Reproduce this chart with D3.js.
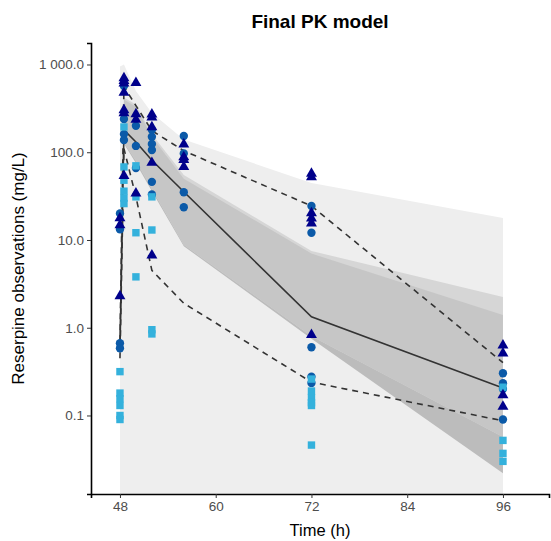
<!DOCTYPE html>
<html>
<head>
<meta charset="utf-8">
<script src="https://cdn.jsdelivr.net/npm/d3@7"></script>
<style>
  body { margin: 0; background: #fff; }
  text { font-family: "Liberation Sans", Arial, sans-serif; }
</style>
</head>
<body>
<div id="chart"></div>
<script>
// VPC bins (h)
var times = [48, 48.5, 50, 52, 56, 72, 96];

// observed percentiles
var obsMedian = [0.55, 180, 131, 81, 35.5, 1.33, 0.206];
var obsP95 = [0.7, 560, 340, 176, 104, 24.4, 0.40];
var obsP5 = [0.45, 110, 31, 4.5, 1.9, 0.24, 0.087];

// simulated prediction interval (light band)
var piUpper = [950, 1000, 500, 280, 140, 44.6, 17.8];
var piLower = [0.005, 0.005, 0.005, 0.005, 0.005, 0.005, 0.005];

// simulated CI bands around median
var ciTimes = [48.5, 50, 52, 56, 72, 96];
var ciUpperA = [420, 350, 160, 55, 7.5, 2.24];
var ciLowerA = [130, 80, 38, 8.8, 0.8, 0.057];
var ciUpperB = [400, 330, 150, 50, 7.0, 1.4];
var ciLowerB = [125, 75, 36, 8.5, 0.75, 0.022];

// observations
var triTime = [48, 48, 48,
  48.5, 48.5, 48.5, 48.5, 48.5, 48.5, 48.5,
  50, 50, 50, 50,
  52, 52, 52, 52, 52,
  56, 56, 56, 56,
  72, 72, 72, 72, 72, 72,
  96, 96, 96, 96];
var triConc = [17.8, 14.8, 2.3,
  702, 650, 610, 477, 302, 280, 54,
  620, 273, 235, 34,
  270, 250, 194, 76, 6.7,
  123, 88, 82, 68,
  57, 52, 20.2, 17.7, 15.5, 0.83,
  0.63, 0.51, 0.171, 0.126];

var cirTime = [48, 48, 48, 48,
  48.5, 48.5, 48.5, 48.5,
  50, 50, 50,
  52, 52, 52, 52, 52, 52,
  56, 56, 56, 56,
  72, 72, 72, 72, 72,
  96, 96, 96, 96];
var cirConc = [20.1, 13.2, 0.665, 0.583,
  568, 239, 161, 138,
  200, 118, 66,
  180, 150, 124, 106, 46, 33,
  153, 97, 35, 23.6,
  24.4, 12.1, 0.6, 0.277, 0.235,
  0.303, 0.233, 0.2, 0.09];

var sqTime = [48, 48, 48, 48, 48, 48,
  48.5, 48.5, 48.5, 48.5, 48.5, 48.5,
  50, 50, 50, 50,
  52, 52, 52, 52,
  72, 72, 72, 72, 72, 72,
  96, 96, 96, 96];
var sqConc = [0.316, 0.18, 0.155, 0.13, 0.1, 0.09,
  194, 68, 48, 36, 30, 26,
  70, 31, 12.1, 3.8,
  31, 13, 0.95, 0.85,
  0.26, 0.19, 0.16, 0.14, 0.13, 0.046,
  0.21, 0.052, 0.037, 0.03];

var xTicks = [48, 60, 72, 84, 96];
var yTicks = [0.1, 1, 10, 100, 1000];
var yTickLabels = ["0.1", "1.0", "10.0", "100.0", "1 000.0"];

var W = 551, H = 541;
var pLeft = 91, pRight = 549, pTop = 43, pBottom = 494;

var svg = d3.select("#chart").append("svg")
  .attr("width", W)
  .attr("height", H);

var x = d3.scaleLinear().domain([44.37, 101.77]).range([pLeft, pRight]);
var y = d3.scaleLog().domain([0.01274, 1758]).range([pBottom, pTop]);

svg.append("clipPath").attr("id", "clip")
  .append("rect").attr("x", pLeft).attr("y", pTop)
  .attr("width", pRight - pLeft).attr("height", pBottom - pTop);

var panel = svg.append("g").attr("clip-path", "url(#clip)");

function band(ts, lo, hi) {
  var d = ts.map(function (t, i) { return { t: t, lo: lo[i], hi: hi[i] }; });
  return d3.area()
    .x(function (p) { return x(p.t); })
    .y0(function (p) { return y(p.lo); })
    .y1(function (p) { return y(p.hi); })(d);
}

// light prediction interval
panel.append("path").attr("d", band(times, piLower, piUpper)).attr("fill", "#eeeeee");
// CI bands
panel.append("path").attr("d", band(ciTimes, ciLowerB, ciUpperB)).attr("fill", "#bcbcbc");
panel.append("path").attr("d", band(ciTimes, ciLowerA, ciUpperA)).attr("fill", "#d6d6d6");
var lowMax = ciLowerA.map(function (v, i) { return Math.max(v, ciLowerB[i]); });
var hiMin = ciUpperA.map(function (v, i) { return Math.min(v, ciUpperB[i]); });
panel.append("path").attr("d", band(ciTimes, lowMax, hiMin)).attr("fill", "#c6c6c6");

// observed percentile lines
var line = d3.line()
  .x(function (d, i) { return x(times[i]); })
  .y(function (d) { return y(d); });

panel.append("path").attr("d", line(obsMedian))
  .attr("fill", "none").attr("stroke", "#333333").attr("stroke-width", 1.6);
[obsP95, obsP5].forEach(function (s) {
  panel.append("path").attr("d", line(s))
    .attr("fill", "none").attr("stroke", "#333333").attr("stroke-width", 1.6)
    .attr("stroke-dasharray", "6,5");
});

// points
function pts(ts, vs, type, size, color) {
  panel.append("g").selectAll("path")
    .data(ts)
    .enter()
    .append("path")
    .attr("d", d3.symbol().type(type).size(size))
    .attr("transform", function (t, i) { return "translate(" + x(t) + "," + y(vs[i]) + ")"; })
    .attr("fill", color);
}
pts(cirTime, cirConc, d3.symbolCircle, 55, "#0b5aa8");
pts(sqTime, sqConc, d3.symbolSquare, 55, "#34b1dc");
pts(triTime, triConc, d3.symbolTriangle, 52, "#00008b");

// axes
var xAxis = svg.append("g").attr("transform", "translate(0," + pBottom + ")")
  .call(d3.axisBottom(x).tickValues(xTicks).tickSize(4).tickPadding(3));
var yAxis = svg.append("g").attr("transform", "translate(" + pLeft + ",0)")
  .call(d3.axisLeft(y).tickValues(yTicks).tickFormat(function (d, i) { return yTickLabels[i]; })
    .tickSize(4).tickPadding(3));

[xAxis, yAxis].forEach(function (a) {
  a.select(".domain").attr("stroke", "#000").attr("stroke-width", 1.6);
  a.selectAll(".tick line").attr("stroke", "#333").attr("stroke-width", 1);
  a.selectAll(".tick text").attr("fill", "#4d4d4d").style("font-size", "13.5px")
    .style("font-family", "'Liberation Sans', Arial, sans-serif");
});

svg.append("text")
  .attr("x", (pLeft + pRight) / 2).attr("y", 536)
  .attr("text-anchor", "middle")
  .style("font-size", "16.5px")
  .text("Time (h)");

svg.append("text")
  .attr("transform", "translate(24," + ((pTop + pBottom) / 2) + ")rotate(-90)")
  .attr("text-anchor", "middle")
  .style("font-size", "17px")
  .text("Reserpine observations (mg/L)");

svg.append("text")
  .attr("x", (pLeft + pRight) / 2).attr("y", 28)
  .attr("text-anchor", "middle")
  .style("font-size", "19px")
  .style("font-weight", "bold")
  .text("Final PK model");
</script>
</body>
</html>
